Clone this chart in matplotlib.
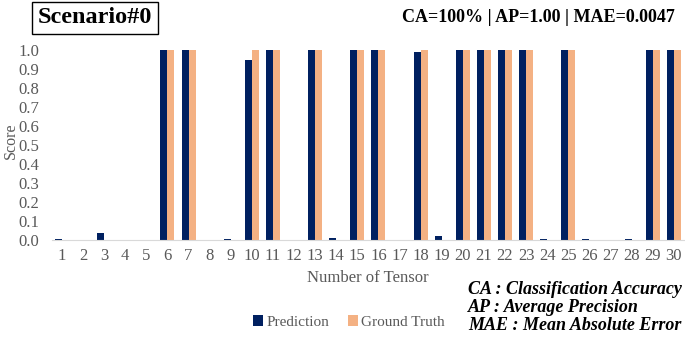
import numpy as np
import matplotlib.pyplot as plt

plt.rcParams['font.family'] = ['Liberation Serif', 'DejaVu Serif']

# 数据
tensors = list(range(1, 31))
prediction = [0.005, 0, 0.035, 0, 0, 1.0, 1.0, 0, 0.005, 0.95,
              1.0, 0, 1.0, 0.008, 1.0, 1.0, 0, 0.99, 0.02, 1.0,
              1.0, 1.0, 1.0, 0.005, 1.0, 0.005, 0, 0.005, 1.0, 1.0]
ground_truth = [0, 0, 0, 0, 0, 1, 1, 0, 0, 1,
                1, 0, 1, 0, 1, 1, 0, 1, 0, 1,
                1, 1, 1, 0, 1, 0, 0, 0, 1, 1]
y_ticks = [0.0, 0.1, 0.2, 0.3, 0.4, 0.5, 0.6, 0.7, 0.8, 0.9, 1.0]

gray = '#595959'
navy = '#002060'
peach = '#F4B183'

fig = plt.figure(figsize=(6.85, 3.38), dpi=100)
ax = fig.add_axes([0.076, 0.29, 0.922, 0.562])

x = np.array(tensors)
w = 0.33
ax.bar(x - w / 2, prediction, width=w, color=navy, label='Prediction')
ax.bar(x + w / 2, ground_truth, width=w, color=peach, label='Ground Truth')

ax.set_xlim(0.53, 30.47)
ax.set_ylim(0, 1.0)
ax.set_xticks(x)
ax.set_xticklabels([str(t) for t in tensors])
ax.set_yticks(y_ticks)
ax.set_yticklabels([f'{v:.1f}' for v in y_ticks])
ax.tick_params(axis='both', length=0, labelsize=12, colors=gray)
ax.tick_params(axis='y', pad=9)
ax.tick_params(axis='x', pad=6)
for s in ['top', 'right', 'left']:
    ax.spines[s].set_visible(False)
ax.spines['bottom'].set_color('#d9d9d9')
ax.set_ylabel('Score', fontsize=11.5, color=gray)
ax.yaxis.set_label_coords(-0.053, 0.52)
ax.set_xlabel('Number of Tensor', fontsize=12, color=gray, labelpad=4)

ax.legend(loc='center', bbox_to_anchor=(0.47, -0.43), ncol=2, frameon=False,
          fontsize=11, handlelength=0.7, handleheight=0.7, handletextpad=0.2,
          columnspacing=1.2, labelcolor=gray)

fig.text(0.0555, 0.947, 'Scenario#0', fontsize=17.5, fontweight='bold', va='center',
         bbox=dict(facecolor='white', edgecolor='black', linewidth=1, pad=4))
fig.text(0.985, 0.947, 'CA=100% | AP=1.00 | MAE=0.0047', fontsize=13,
         fontweight='bold', ha='right', va='center')

fig.text(0.683, 0.09, 'CA : Classification Accuracy\nAP : Average Precision\nMAE : Mean Absolute Error',
         fontsize=13, fontweight='bold', fontstyle='italic', ha='left', va='center',
         linespacing=1.07)

plt.savefig('out.png', dpi=100)
